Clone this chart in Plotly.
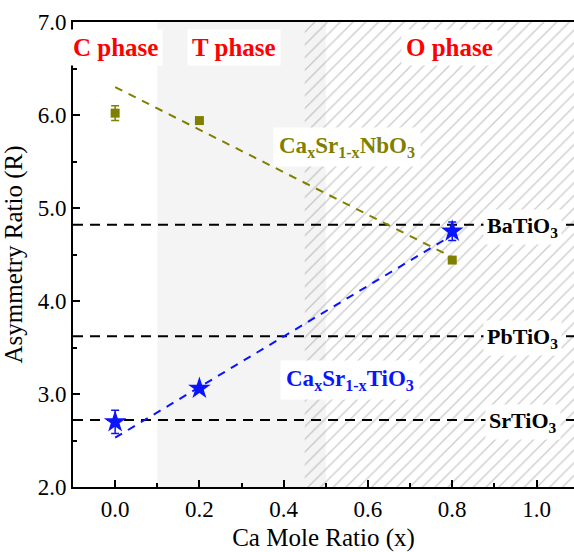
import plotly.graph_objects as go

# ---- data ----
ca_x = [0.0, 0.2, 0.8]
nbo3_R = [6.02, 5.94, 4.44]
nbo3_err = [0.08, 0.0, 0.0]
tio3_R = [2.70, 3.06, 4.75]
tio3_err = [0.125, 0.0, 0.10]

nbo3_fit_x = [0.0, 0.8]
nbo3_fit_R = [6.30, 4.47]
tio3_fit_x = [0.0, 0.79]
tio3_fit_R = [2.53, 4.68]

ref_names = ["BaTiO<sub>3</sub>", "PbTiO<sub>3</sub>", "SrTiO<sub>3</sub>"]
ref_R = [4.82, 3.62, 2.72]

phase_names = ["C phase", "T phase", "O phase"]
phase_label_x = [0.0, 0.282, 0.793]
t_region = [0.1, 0.5]
o_region = [0.45, 1.089]

x_range = [-0.1, 1.089]
y_range = [2.0, 7.0]
x_ticks = [0.0, 0.2, 0.4, 0.6, 0.8, 1.0]
y_ticks = [2.0, 3.0, 4.0, 5.0, 6.0, 7.0]

FONT = "Liberation Serif"
OLIVE = "#808000"
BLUE = "#0a14ff"

fig = go.Figure()

# hatched O-phase region
fig.add_trace(go.Scatter(
    x=[o_region[0], o_region[1], o_region[1], o_region[0], o_region[0]],
    y=[y_range[0], y_range[0], y_range[1], y_range[1], y_range[0]],
    mode="lines", line=dict(width=0), fill="toself",
    fillcolor="rgba(0,0,0,0)",
    fillpattern=dict(shape="/", fgcolor="#9a9a9a", bgcolor="rgba(0,0,0,0)", size=9, solidity=0.15),
    hoverinfo="skip", showlegend=False))

# reference dashed lines
for r in ref_R:
    fig.add_trace(go.Scatter(
        x=x_range, y=[r, r], mode="lines",
        line=dict(color="black", width=2, dash="10px,7px"),
        showlegend=False, hoverinfo="skip"))

# fits
fig.add_trace(go.Scatter(x=nbo3_fit_x, y=nbo3_fit_R, mode="lines",
                         line=dict(color=OLIVE, width=2, dash="8px,7px"), showlegend=False))
fig.add_trace(go.Scatter(x=tio3_fit_x, y=tio3_fit_R, mode="lines",
                         line=dict(color=BLUE, width=2, dash="8px,7px"), showlegend=False))

# data points
fig.add_trace(go.Scatter(x=ca_x, y=nbo3_R, mode="markers",
                         marker=dict(symbol="square", size=9, color=OLIVE),
                         error_y=dict(type="data", array=nbo3_err, color=OLIVE, thickness=1.5, width=4),
                         showlegend=False))
fig.add_trace(go.Scatter(x=ca_x, y=tio3_R, mode="markers",
                         marker=dict(symbol="star", size=17, color=BLUE),
                         error_y=dict(type="data", array=tio3_err, color=BLUE, thickness=1.5, width=4),
                         showlegend=False))

# T-phase grey region
fig.add_shape(type="rect", xref="x", yref="y", x0=t_region[0], x1=t_region[1],
              y0=y_range[0], y1=y_range[1], fillcolor="#f4f4f4", line=dict(width=0), layer="below")

# phase labels
for name, px in zip(phase_names, phase_label_x):
    fig.add_annotation(x=px, y=6.73, text="<b>" + name + "</b>", showarrow=False, bgcolor="white", borderpad=4,
                       font=dict(family=FONT, size=25, color="red"))

# reference labels
for name, r in zip(ref_names, ref_R):
    fig.add_annotation(x=0.967, y=r, text="<b>" + name + "</b>", showarrow=False, bgcolor="white", borderpad=3,
                       yshift=-2, font=dict(family=FONT, size=22, color="black"))

fig.add_annotation(x=0.551, y=5.66, text="<b>Ca<sub>x</sub>Sr<sub>1-x</sub>NbO<sub>3</sub></b>", showarrow=False,
                   bgcolor="white", borderpad=5, font=dict(family=FONT, size=23, color=OLIVE))
fig.add_annotation(x=0.558, y=3.15, text="<b>Ca<sub>x</sub>Sr<sub>1-x</sub>TiO<sub>3</sub></b>", showarrow=False,
                   bgcolor="white", borderpad=5, font=dict(family=FONT, size=23, color=BLUE))

fig.update_layout(
    width=574, height=552,
    margin=dict(l=73, r=0, t=22, b=65),
    paper_bgcolor="white", plot_bgcolor="white",
    showlegend=False,
)
fig.update_xaxes(range=x_range, tickvals=x_ticks, ticktext=[f"{v:.1f}" for v in x_ticks],
                 ticks="inside", ticklen=7, tickwidth=1.5, tickcolor="black",
                 minor=dict(dtick=0.1, tick0=0, ticks="inside", ticklen=4, tickwidth=1.5, tickcolor="black"),
                 showline=True, linecolor="black", linewidth=2, mirror=True,
                 showgrid=False, zeroline=False,
                 tickfont=dict(family=FONT, size=23, color="black"),
                 title=dict(text="Ca Mole Ratio (x)", font=dict(family=FONT, size=25, color="black"), standoff=14))
fig.update_yaxes(range=y_range, tickvals=y_ticks, ticktext=[f"{v:.1f}" for v in y_ticks],
                 ticks="inside", ticklen=7, tickwidth=1.5, tickcolor="black",
                 minor=dict(dtick=0.5, tick0=0, ticks="inside", ticklen=4, tickwidth=1.5, tickcolor="black"),
                 showline=True, linecolor="black", linewidth=2, mirror=False,
                 showgrid=False, zeroline=False,
                 tickfont=dict(family=FONT, size=23, color="black"),
                 title=dict(text="Asymmetry Ratio (R)", font=dict(family=FONT, size=25, color="black"), standoff=10))

fig.write_html("out.html")
